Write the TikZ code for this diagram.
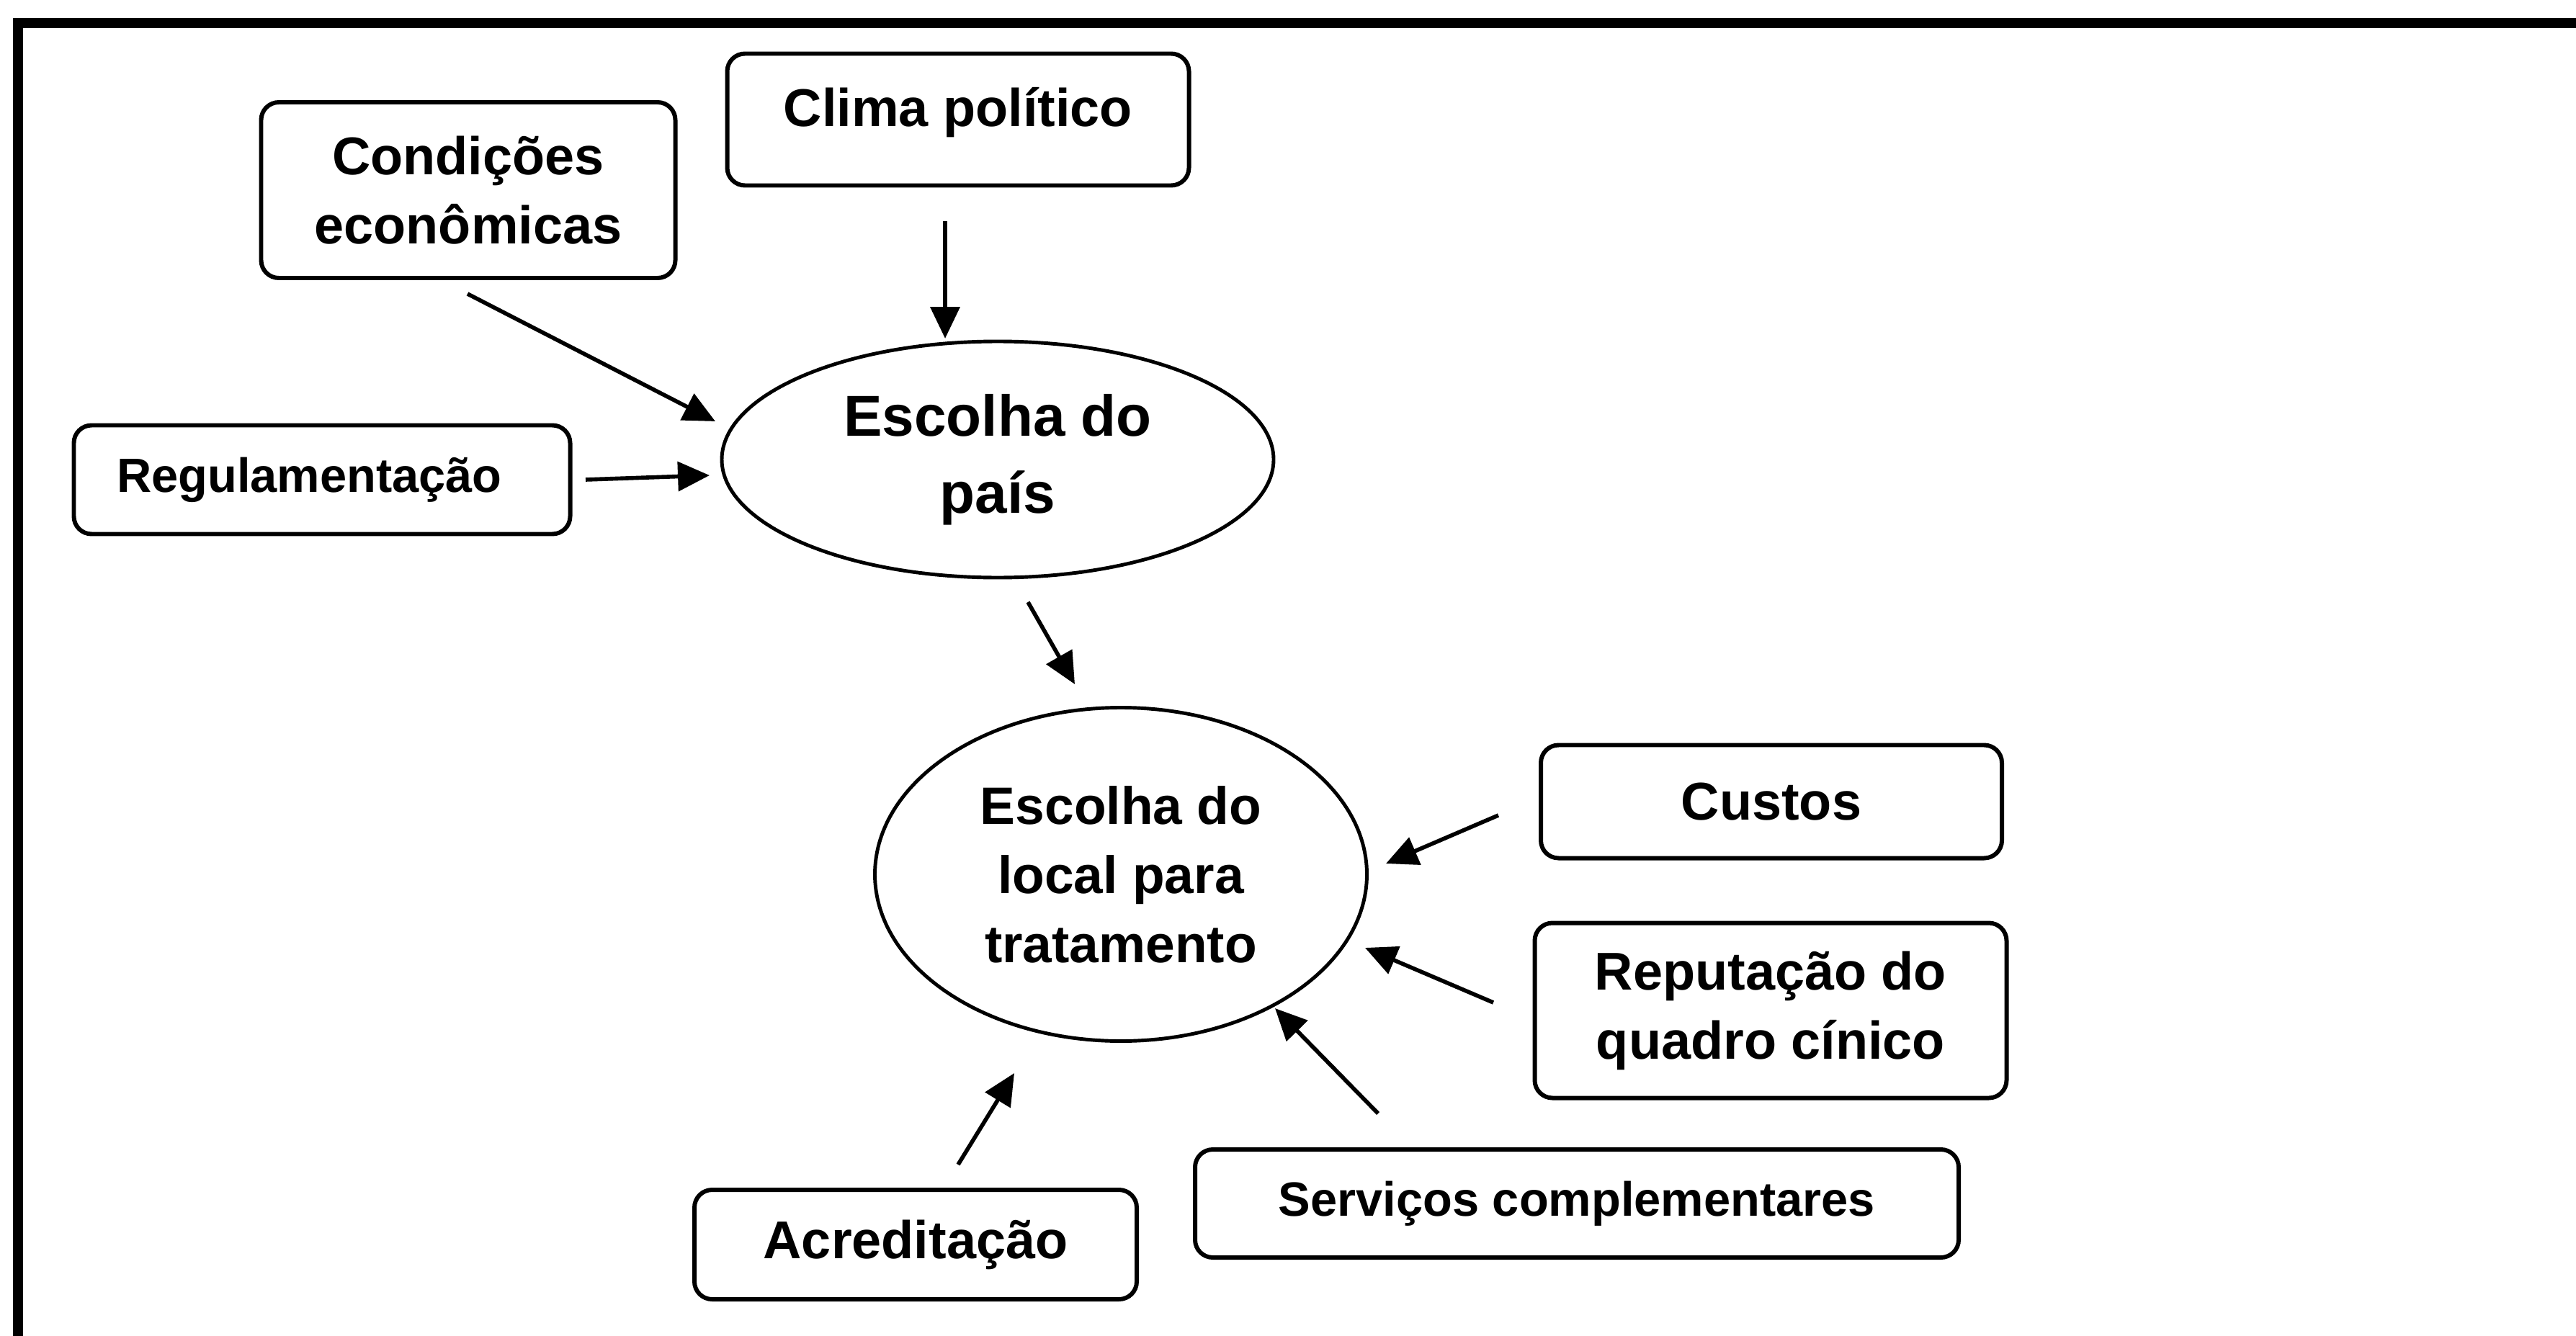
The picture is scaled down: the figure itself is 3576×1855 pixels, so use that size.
\documentclass[tikz,border=0pt]{standalone}
\usepackage{fontspec}
\setmainfont{Liberation Sans}
\usetikzlibrary{shapes.geometric,arrows.meta}
\tikzset{
  box/.style={draw, line width=1.7pt, rounded corners=7pt, inner sep=0pt, align=center,
    font=\fontsize{21}{27.3}\selectfont\bfseries},
  oval/.style={draw, ellipse, line width=1.4pt, inner sep=0pt, align=center,
    font=\fontsize{21}{27.3}\selectfont\bfseries},
  arr/.style={line width=1.6pt, -{Triangle[length=12.5pt,width=11.5pt]}},
  frame/.style={line width=4pt}
}
\begin{document}
\begin{tikzpicture}[x=0.01cm,y=-0.01cm]
\clip (0,0) rectangle (3576,1855);
\fill[white] (0,0) rectangle (3576,1855);
\draw[frame] (25,1900) -- (25,32) -- (3650,32);

\node[box, minimum width=641*0.01cm, minimum height=183*0.01cm] (clima) at (1330,166) {\raisebox{10pt}{Clima político}};
\node[box, minimum width=575*0.01cm, minimum height=244*0.01cm] (cond) at (650,264) {Condições\\econômicas};
\node[box, minimum width=689*0.01cm, minimum height=151*0.01cm, font=\fontsize{19}{24}\selectfont\bfseries] (reg) at (447,666) {Regulamentação\hspace{10pt}};
\node[oval, minimum width=766*0.01cm, minimum height=328*0.01cm, font=\fontsize{22.8}{30.4}\selectfont\bfseries] (e1) at (1385,638) {Escolha do\\país};
\node[oval, minimum width=683*0.01cm, minimum height=463*0.01cm, font=\fontsize{20.8}{27.3}\selectfont\bfseries] (e2) at (1556,1214) {Escolha do\\local para\\tratamento};
\node[box, minimum width=640*0.01cm, minimum height=157*0.01cm] (custos) at (2459,1113) {Custos};
\node[box, minimum width=655*0.01cm, minimum height=243*0.01cm] (rep) at (2458,1403) {Reputação do\\quadro cínico};
\node[box, minimum width=1060*0.01cm, minimum height=150*0.01cm, font=\fontsize{19}{24}\selectfont\bfseries] (serv) at (2189,1671) {Serviços complementares};
\node[box, minimum width=614*0.01cm, minimum height=152*0.01cm] (acred) at (1271,1728) {Acreditação};

\coordinate (a1s) at (1312,307);  \coordinate (a1e) at (1312,470);
\coordinate (a2s) at (649,408);   \coordinate (a2e) at (993,585);
\coordinate (a3s) at (813,666);   \coordinate (a3e) at (985,660);
\coordinate (a4s) at (1427,836);  \coordinate (a4e) at (1492,950);
\coordinate (a5s) at (2080,1132); \coordinate (a5e) at (1924,1199);
\coordinate (a6s) at (2073,1392); \coordinate (a6e) at (1895,1316);
\coordinate (a7s) at (1913,1546); \coordinate (a7e) at (1770,1400);
\coordinate (a8s) at (1330,1617); \coordinate (a8e) at (1408,1490);

\draw[arr] (a1s) -- (a1e);
\draw[arr] (a2s) -- (a2e);
\draw[arr] (a3s) -- (a3e);
\draw[arr] (a4s) -- (a4e);
\draw[arr] (a5s) -- (a5e);
\draw[arr] (a6s) -- (a6e);
\draw[arr] (a7s) -- (a7e);
\draw[arr] (a8s) -- (a8e);
\end{tikzpicture}
\end{document}
